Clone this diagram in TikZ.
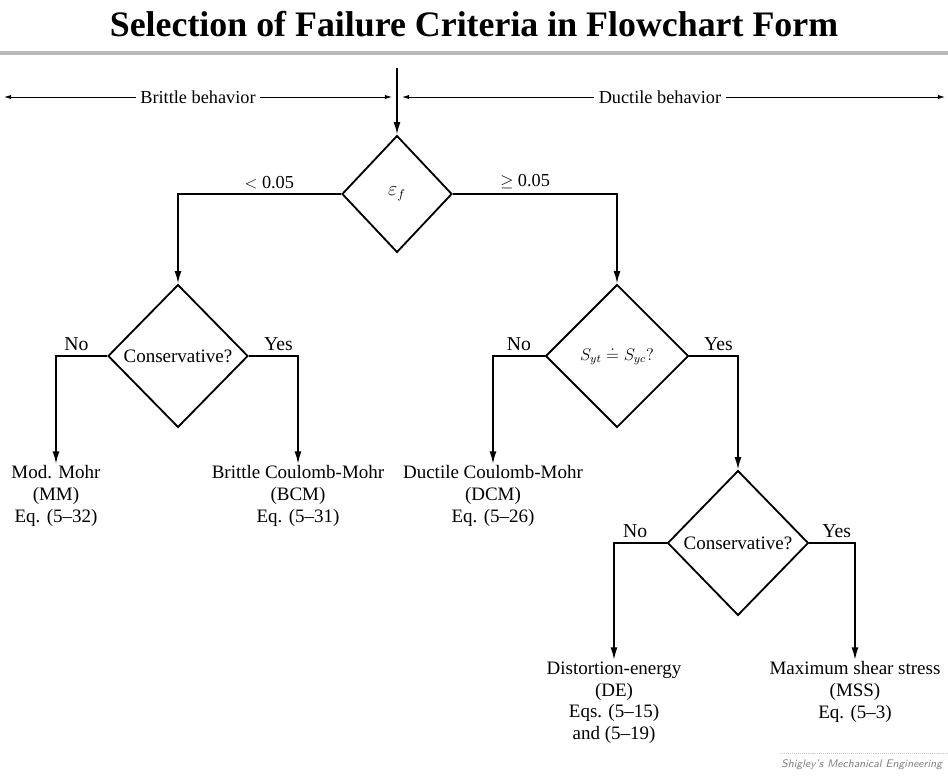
\documentclass[tikz,border=0pt]{standalone}
\usepackage{fontspec}
\setmainfont{Liberation Serif}
\usepackage{amsmath,amssymb}
\usetikzlibrary{shapes.geometric,arrows.meta}

\tikzset{
  decision/.style={draw,diamond,line width=1.3pt,inner sep=0pt},
  flow/.style={line width=1.3pt,-{Latex[length=9pt,width=5pt]}},
  behspan/.style={line width=0.6pt,{Latex[length=5pt,width=3pt]}-{Latex[length=5pt,width=3pt]}},
  result/.style={align=center,anchor=north,inner sep=1pt,font=\fontsize{13.5}{15.5}\selectfont},
  branch/.style={above,inner sep=3pt,font=\fontsize{14}{16}\selectfont}
}

\begin{document}
\begin{tikzpicture}[x=0.025cm,y=-0.025cm,font=\fontsize{13.5}{15.5}\selectfont]
  \useasboundingbox (0,0) rectangle (948,780);
  \node[anchor=base,font=\fontsize{25.5}{30}\selectfont\bfseries] (title) at (474,37) {Selection of Failure Criteria in Flowchart Form};
  \draw[gray!55,line width=3.5pt] (0,53) -- (948,53);
  % behaviour ranges
  \coordinate (top) at (397,68);
  \coordinate (bl) at (4,97);   \coordinate (br) at (392,97);
  \coordinate (dl) at (402,97); \coordinate (dr) at (945,97);
  \draw[behspan] (bl) -- node[fill=white,font=\fontsize{13}{15}\selectfont]{Brittle behavior} (br);
  \draw[behspan] (dl) -- node[fill=white,pos=0.475,font=\fontsize{13}{15}\selectfont]{Ductile behavior} (dr);
  % decisions
  \node[decision,minimum width=2.75cm,minimum height=2.92cm] (strain) at (397,194) {$\varepsilon_f$};
  \node[decision,minimum width=3.5cm,minimum height=3.57cm] (consL) at (178,356) {Conservative?};
  \node[decision,minimum width=3.57cm,minimum height=3.57cm,font=\fontsize{12}{14}\selectfont] (equal) at (617,356) {$S_{yt} \doteq S_{yc}?$};
  \node[decision,minimum width=3.52cm,minimum height=3.62cm] (consR) at (738,543) {Conservative?};
  % results
  \node[result] (mm)  at (56,464)  {Mod. Mohr\\(MM)\\Eq. (5--32)};
  \node[result] (bcm) at (298,464) {Brittle Coulomb-Mohr\\(BCM)\\Eq. (5--31)};
  \node[result] (dcm) at (493,464) {Ductile Coulomb-Mohr\\(DCM)\\Eq. (5--26)};
  \node[result] (de)  at (614,660) {Distortion-energy\\(DE)\\Eqs. (5--15)\\and (5--19)};
  \node[result] (mss) at (855,660) {Maximum shear stress\\(MSS)\\Eq. (5--3)};
  % connectors
  \draw[flow] (top) -- (strain.north);
  \draw[flow] (strain.west) -| node[branch,pos=0.22,font=\fontsize{13}{15}\selectfont]{$<$ 0.05} (consL.north);
  \draw[flow] (strain.east) -| node[branch,pos=0.22,font=\fontsize{13}{15}\selectfont]{$\geq$ 0.05} (equal.north);
  \draw[flow] (consL.west) -| node[branch,pos=0.3]{No} (mm.north);
  \draw[flow] (consL.east) -| node[branch,pos=0.3]{Yes} (bcm.north);
  \draw[flow] (equal.west) -| node[branch,pos=0.25]{No} (dcm.north);
  \draw[flow] (equal.east) -| node[branch,pos=0.3]{Yes} (consR.north);
  \draw[flow] (consR.west) -| node[branch,pos=0.3]{No} (de.north);
  \draw[flow] (consR.east) -| node[branch,pos=0.3]{Yes} (mss.north);
  % source
  \draw[gray!40,densely dotted] (780,753) -- (948,753);
  \node[anchor=west,inner sep=0pt,text=gray,font=\sffamily\itshape\fontsize{7.8}{9}\selectfont] (src) at (781,765) {Shigley's Mechanical Engineering};
\end{tikzpicture}
\end{document}
